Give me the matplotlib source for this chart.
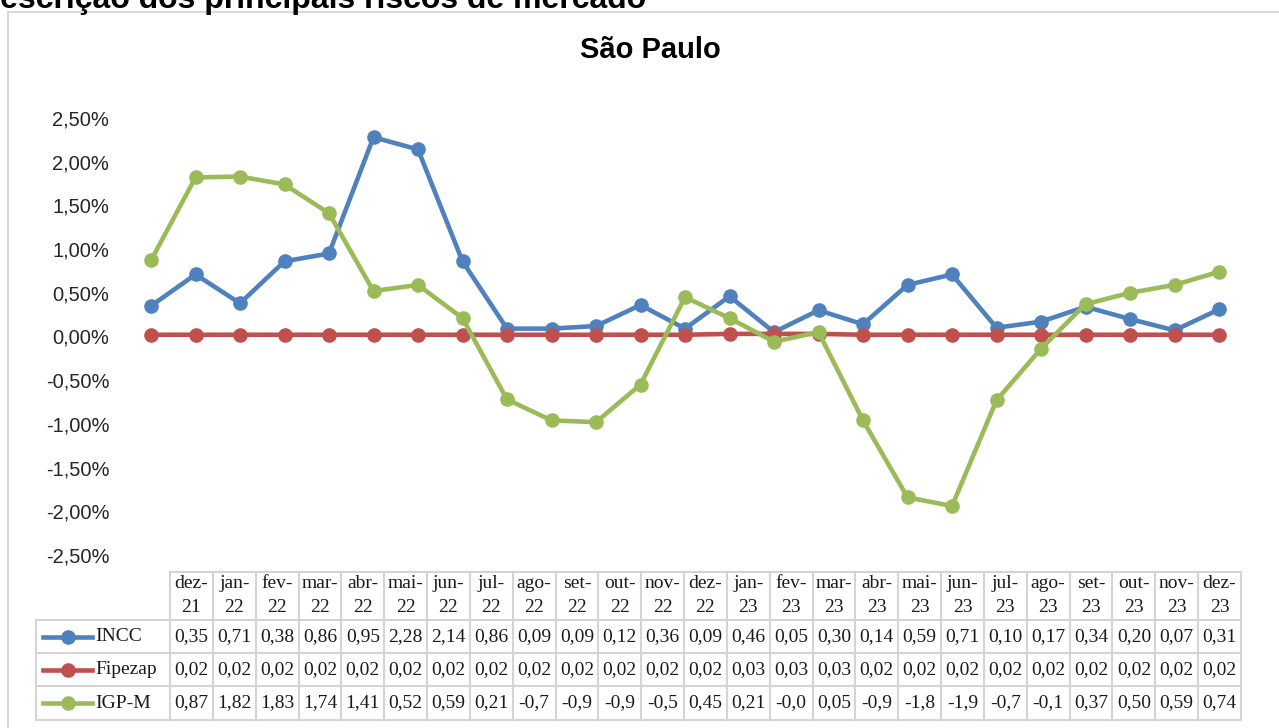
### recreate chart: INCC x Fipezap x IGP-M (Sao Paulo), with data table below

import numpy as np
import matplotlib.pyplot as plt
from matplotlib.lines import Line2D
from matplotlib.ticker import FuncFormatter, MultipleLocator

plt.rcParams['font.family'] = ['Liberation Sans', 'DejaVu Sans']

# data (% ao mes)
meses = ['dez-21', 'jan-22', 'fev-22', 'mar-22', 'abr-22', 'mai-22', 'jun-22',
         'jul-22', 'ago-22', 'set-22', 'out-22', 'nov-22', 'dez-22', 'jan-23',
         'fev-23', 'mar-23', 'abr-23', 'mai-23', 'jun-23', 'jul-23', 'ago-23',
         'set-23', 'out-23', 'nov-23', 'dez-23']
incc = [0.35, 0.71, 0.38, 0.86, 0.95, 2.28, 2.14, 0.86, 0.09, 0.09, 0.12, 0.36, 0.09,
        0.46, 0.05, 0.30, 0.14, 0.59, 0.71, 0.10, 0.17, 0.34, 0.20, 0.07, 0.31]
fipezap = [0.02, 0.02, 0.02, 0.02, 0.02, 0.02, 0.02, 0.02, 0.02, 0.02, 0.02, 0.02, 0.02,
           0.03, 0.03, 0.03, 0.02, 0.02, 0.02, 0.02, 0.02, 0.02, 0.02, 0.02, 0.02]
igpm = [0.87, 1.82, 1.83, 1.74, 1.41, 0.52, 0.59, 0.21, -0.72, -0.96, -0.98, -0.55, 0.45,
        0.21, -0.06, 0.05, -0.96, -1.84, -1.94, -0.73, -0.14, 0.37, 0.50, 0.59, 0.74]

series = [('INCC', incc, '#4F81BD'),
          ('Fipezap', fipezap, '#C0504D'),
          ('IGP-M', igpm, '#9BBB59')]

W, H = 1279, 728
fig = plt.figure(figsize=(W/100, H/100), dpi=100)

def px_box(x0, y0, x1, y1):
    # pixel box (from top-left) -> figure fraction rect
    return [x0/W, 1 - y1/H, (x1 - x0)/W, (y1 - y0)/H]

def cell_text(v):
    # Excel shows narrow cells: negatives get cut to one decimal
    if v < 0:
        return ('-%.1f' % (int(abs(v)*10)/10)).replace('.', ',')
    return ('%.2f' % v).replace('.', ',')

# document heading, cut by the screenshot
fig.text(-23/W, 1 - 8/H, 'Descrição dos principais riscos de mercado',
         fontsize=23, fontweight='bold', ha='left', va='baseline')

# chart frame
fig.add_artist(Line2D([8/W, 8/W], [0, 1 - 12/H], color='#d9d9d9', lw=1.5))
fig.add_artist(Line2D([8/W, 1], [1 - 12/H, 1 - 12/H], color='#d9d9d9', lw=1.5))

fig.text(650/W, 1 - 50/H, 'São Paulo', fontsize=21, fontweight='bold',
         ha='center', va='center')

# main plot
ax = fig.add_axes(px_box(128.75, 118, 1241.25, 555))
x = np.arange(len(meses))
for nome, vals, cor in series:
    ax.plot(x, vals, color=cor, lw=3.3, marker='o', markersize=9.5,
            solid_capstyle='round', label=nome)

ax.set_xlim(-0.5, len(meses) - 0.5)
ax.set_ylim(-2.5, 2.5)
ax.yaxis.set_major_locator(MultipleLocator(0.5))
ax.yaxis.set_major_formatter(FuncFormatter(lambda v, p: ('%.2f%%' % v).replace('.', ',')))
ax.tick_params(axis='y', length=0, pad=14, labelsize=14.5, labelcolor='#262626')
ax.set_xticks([])
for s in ax.spines.values():
    s.set_visible(False)
ax.patch.set_alpha(0)

# data table
tx0, tx1 = 170, 1241
cw = (tx1 - tx0) / len(meses)
tab = fig.add_axes(px_box(tx0, 572, tx1, 720))
tab.set_xlim(0, len(meses))
tab.set_ylim(148, 0)
tab.axis('off')

def lx(px):
    return (px - tx0) / cw

grid = dict(color='#d4d4d4', lw=1.5, clip_on=False)
rows = [48, 81, 114, 148]
for i in range(len(meses) + 1):
    tab.plot([i, i], [0, 148], **grid)
tab.plot([0, len(meses)], [0, 0], **grid)
for r in rows:
    tab.plot([lx(36), len(meses)], [r, r], **grid)
tab.plot([lx(36), lx(36)], [48, 148], **grid)

tfont = dict(family=['Liberation Serif', 'DejaVu Serif'], fontsize=14, color='#1a1a1a')
for i, m in enumerate(meses):
    mes, ano = m.split('-')
    tab.text(i + 0.5, 11, mes + '-', ha='center', va='center', **tfont)
    tab.text(i + 0.5, 36, ano, ha='center', va='center', **tfont)

for k, (nome, vals, cor) in enumerate(series):
    yc = (rows[k] + rows[k + 1]) / 2
    tab.plot([lx(43), lx(92)], [yc, yc], color=cor, lw=3.3, clip_on=False)
    tab.plot([lx(67.5)], [yc], color=cor, marker='o', markersize=9.5, clip_on=False)
    tab.text(lx(95), yc, nome, ha='left', va='center', **tfont)
    for i, v in enumerate(vals):
        tab.text(i + 0.5, yc, cell_text(v), ha='center', va='center', **tfont)

plt.savefig('out.png', dpi=100)
